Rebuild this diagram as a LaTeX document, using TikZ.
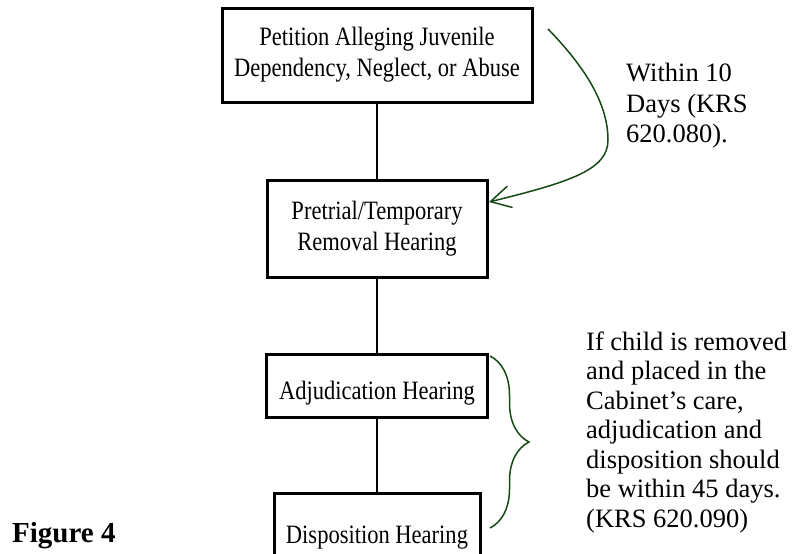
\documentclass[tikz,border=0pt]{standalone}
\usepackage{fontspec}
\setmainfont{Liberation Serif}
\newfontfamily\boxfont[FakeStretch=0.85]{Liberation Serif}
\usepackage{tikz}
\usetikzlibrary{positioning,arrows.meta,decorations.pathreplacing}
\definecolor{notegreen}{RGB}{20,75,20}

\begin{document}
\begin{tikzpicture}[
    x=1pt, y=-1pt,
    courtbox/.style={rectangle, draw, line width=3pt, inner sep=0pt, align=center, font=\boxfont\fontsize{26.5}{31}\selectfont},
    link/.style={line width=2.5pt},
    arrow/.style={draw=notegreen, line width=1.5pt, -{Straight Barb[length=20pt,width=22pt]}},
    note/.style={anchor=north west, inner sep=0pt, align=left, font=\fontsize{26.5}{29.5}\selectfont}
]
    \useasboundingbox (0,0) rectangle (795,554);
    \clip (0,0) rectangle (795,554);

    % Hearings
    \node[courtbox, minimum width=310pt, minimum height=94pt] (petition) at (377,55) {Petition Alleging Juvenile\\Dependency, Neglect, or Abuse};
    \node[courtbox, minimum width=220pt, minimum height=97pt] (removal) at (377,228.5) {Pretrial/Temporary\\Removal Hearing};
    \node[courtbox, minimum width=221pt, minimum height=63pt, text height=27pt, text depth=0pt] (adjudication) at (377,385.5) {Adjudication Hearing};
    \node[courtbox, minimum width=206pt, minimum height=86pt, text height=14pt, text depth=0pt] (disposition) at (377,536) {Disposition Hearing};

    \draw[link] (petition) -- (removal);
    \draw[link] (removal) -- (adjudication);
    \draw[link] (adjudication) -- (disposition);

    % Within 10 days
    \coordinate (arrowstart) at (548,29);
    \coordinate (arrowend) at (489,202);
    \draw[arrow] (arrowstart) .. controls (580,62) and (608,100) .. (608,140)
        .. controls (608,170) and (570,182) .. (arrowend);
    \node[note, font=\fontsize{26.5}{30.5}\selectfont] (within) at (626,63) {Within 10\\Days (KRS\\620.080).};

    % 45 days
    \coordinate (bracetop) at (490,356);
    \coordinate (bracebot) at (490,528);
    \draw[notegreen, line width=1.5pt, decorate, decoration={brace, amplitude=39pt}] (bracetop) -- (bracebot);
    \node[note] (removed) at (586,331.5) {If child is removed\\and placed in the\\Cabinet’s care,\\adjudication and\\disposition should\\be within 45 days.\\(KRS 620.090)};

    \node[anchor=base west, inner sep=0pt, font=\fontsize{29}{34}\selectfont\bfseries] (figlabel) at (12,542) {Figure 4};
\end{tikzpicture}
\end{document}
